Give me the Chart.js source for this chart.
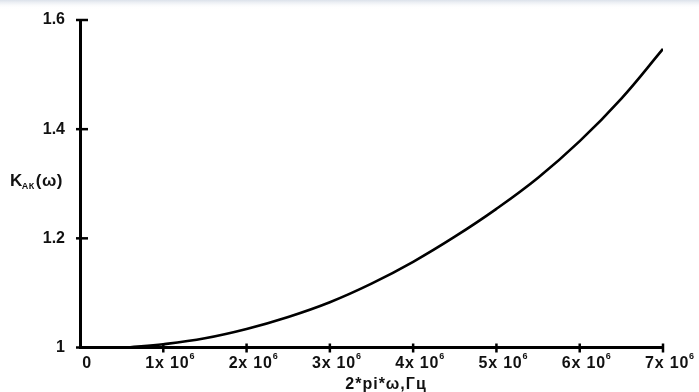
<!DOCTYPE html>
<html>
<head>
<meta charset="utf-8">
<script src="https://cdn.jsdelivr.net/npm/chart.js@4.4.1/dist/chart.umd.min.js"></script>
<style>
    html, body { margin: 0; padding: 0; background: #fff; }
    #wrap { width: 699px; height: 392px; position: relative; }
</style>
</head>
<body>
<div id="wrap"><canvas id="kChart"></canvas></div>
<script>
// -----------------------------
// DATA
// -----------------------------
const omega   = [0.58e6, 1e6, 1.5e6, 2e6, 2.5e6, 3e6, 3.5e6, 4e6, 4.5e6, 5e6, 5.5e6, 6e6, 6.5e6, 7e6];
const kValues = [1.0, 1.006, 1.017, 1.034, 1.056, 1.083, 1.117, 1.157, 1.203, 1.254, 1.311, 1.378, 1.456, 1.547];

const xTicks = [0, 1e6, 2e6, 3e6, 4e6, 5e6, 6e6, 7e6];
const xTickLabels = ["0", "1x 10", "2x 10", "3x 10", "4x 10", "5x 10", "6x 10", "7x 10"];
const xTickPowers = ["", "6", "6", "6", "6", "6", "6", "6"];
const yTicks = [1, 1.2, 1.4, 1.6];

const FONT = "'Liberation Sans', Arial, sans-serif";
const INK = "#111";

// -----------------------------
// CUSTOM AXIS DRAWING
// -----------------------------
const axisDecor = {
    id: "axisDecor",
    beforeDraw(chart) {
        // faint band at the top of the scan
        const ctx = chart.ctx;
        const g = ctx.createLinearGradient(0, 0, 0, 9);
        g.addColorStop(0, "rgba(215,222,232,0.9)");
        g.addColorStop(1, "rgba(255,255,255,0)");
        ctx.fillStyle = g;
        ctx.fillRect(0, 0, chart.width, 9);
    },
    afterDraw(chart) {
        const ctx = chart.ctx;
        const xs = chart.scales.x;
        const ys = chart.scales.y;
        const left = chart.chartArea.left;
        const bottom = chart.chartArea.bottom;

        ctx.save();
        ctx.strokeStyle = "#000";
        ctx.lineWidth = 2.5;

        // y ticks
        yTicks.forEach(v => {
            const y = ys.getPixelForValue(v);
            ctx.beginPath();
            ctx.moveTo(left - 4, y);
            ctx.lineTo(left + 8, y);
            ctx.stroke();
        });

        // x ticks
        xTicks.forEach(v => {
            if (v === 0) return;
            const x = xs.getPixelForValue(v);
            ctx.beginPath();
            ctx.moveTo(x, bottom - 4);
            ctx.lineTo(x, bottom + 5);
            ctx.stroke();
        });

        // x tick labels with superscript
        ctx.fillStyle = INK;
        ctx.textBaseline = "alphabetic";
        ctx.textAlign = "left";
        ctx.letterSpacing = "0.8px";
        xTicks.forEach((v, i) => {
            const main = xTickLabels[i];
            const pow = xTickPowers[i];
            ctx.font = "bold 16px " + FONT;
            const w1 = ctx.measureText(main).width;
            ctx.font = "bold 9px " + FONT;
            const w2 = pow ? ctx.measureText(pow).width : 0;
            const cx = xs.getPixelForValue(v) + 7;
            const x0 = cx - (w1 + w2) / 2;
            ctx.font = "bold 16px " + FONT;
            ctx.fillText(main, x0, 368);
            if (pow) {
                ctx.font = "bold 9px " + FONT;
                ctx.fillText(pow, x0 + w1, 359);
            }
        });

        // x axis title
        ctx.font = "bold 16px " + FONT;
        ctx.letterSpacing = "1px";
        ctx.textAlign = "center";
        ctx.fillText("2*pi*\u03c9,\u0413\u0446", 386, 389);

        // y axis title: K with subscript
        ctx.letterSpacing = "0.5px";
        ctx.textAlign = "left";
        ctx.font = "bold 17px " + FONT;
        let tx = 10;
        ctx.fillText("K", tx, 186);
        tx += ctx.measureText("K").width - 1;
        ctx.font = "bold 9px " + FONT;
        ctx.fillText("\u0410\u041a", tx, 189);
        tx += ctx.measureText("\u0410\u041a").width + 1;
        ctx.font = "bold 17px " + FONT;
        ctx.fillText("(\u03c9)", tx, 186);

        ctx.restore();
    }
};

// -----------------------------
// CHART
// -----------------------------
function init() {

    const ctx = document.getElementById("kChart").getContext("2d");

    new Chart(ctx, {
        type: "line",
        data: {
            datasets: [{
                data: omega.map((w, i) => ({ x: w, y: kValues[i] })),
                borderColor: "#000",
                borderWidth: 2.6,
                pointRadius: 0,
                tension: 0.4,
                fill: false
            }]
        },
        options: {
            responsive: true,
            maintainAspectRatio: false,
            animation: false,
            layout: { padding: { top: 20, right: 36, left: 0, bottom: 0 } },
            plugins: {
                legend: { display: false },
                tooltip: { enabled: false }
            },
            scales: {
                x: {
                    type: "linear",
                    min: 0,
                    max: 7e6,
                    afterBuildTicks: s => { s.ticks = xTicks.map(v => ({ value: v })); },
                    afterFit: s => { s.height = 44.5; },
                    grid: { display: false },
                    border: { display: true, color: "#000", width: 3 },
                    ticks: { display: false }
                },
                y: {
                    min: 1,
                    max: 1.6,
                    afterBuildTicks: s => { s.ticks = yTicks.map(v => ({ value: v })); },
                    afterFit: s => { s.width = 80; },
                    grid: { display: false, drawTicks: true, tickLength: 15 },
                    border: { display: true, color: "#000", width: 3 },
                    ticks: {
                        padding: 0,
                        color: INK,
                        font: { family: FONT, size: 16, weight: "bold" },
                        callback: v => String(+v.toFixed(1))
                    }
                }
            }
        },
        plugins: [axisDecor]
    });
}

document.addEventListener("DOMContentLoaded", init);
</script>
</body>
</html>
